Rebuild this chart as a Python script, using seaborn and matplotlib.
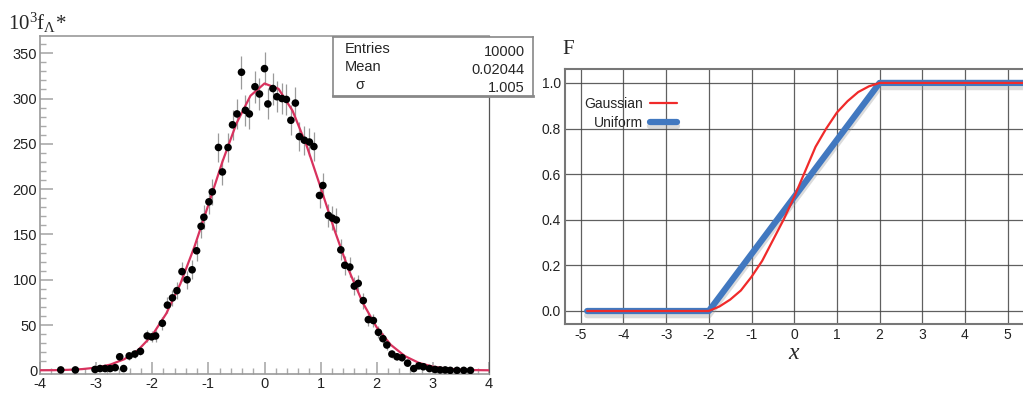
import numpy as np
import pandas as pd
import matplotlib
matplotlib.use("Agg")
import matplotlib.pyplot as plt
import matplotlib.patheffects as pe
from matplotlib.ticker import MultipleLocator
import seaborn as sns

# left panel: histogram points (bin centre, count) and fitted gaussian
pts_x = [-3.63, -3.37, -3.02, -2.93, -2.84, -2.75, -2.66, -2.58, -2.51, -2.41,
         -2.31, -2.21, -2.09, -2.01, -1.94, -1.82, -1.73, -1.64, -1.56, -1.47,
         -1.38, -1.29, -1.21, -1.13, -1.08, -0.99, -0.93, -0.82, -0.75, -0.65,
         -0.57, -0.49, -0.41, -0.34, -0.27, -0.17, -0.09, 0.0, 0.06, 0.15,
         0.22, 0.31, 0.39, 0.47, 0.55, 0.62, 0.71, 0.80, 0.88, 0.98,
         1.04, 1.14, 1.21, 1.28, 1.36, 1.43, 1.52, 1.60, 1.67, 1.76,
         1.85, 1.94, 2.03, 2.11, 2.18, 2.27, 2.36, 2.45, 2.55, 2.66,
         2.75, 2.83, 2.94, 3.04, 3.13, 3.22, 3.31, 3.43, 3.55, 3.67]
pts_y = [0.5, 0.5, 1, 2, 2, 2, 3, 15, 2, 16,
         18, 21, 38, 37, 38, 52, 72, 80, 88, 109,
         100, 111, 132, 159, 169, 186, 197, 246, 219, 246,
         271, 283, 329, 287, 283, 313, 305, 333, 294, 311,
         302, 300, 299, 276, 295, 258, 254, 252, 247, 193,
         204, 171, 168, 166, 133, 116, 114, 93, 96, 77,
         56, 55, 42, 35, 28, 18, 15, 14, 8, 2,
         5, 4, 2, 1, 0.5, 0.5, 0, 0, 0, 0]

fit_x = [-4.0, -3.75, -3.5, -3.25, -3.0, -2.75, -2.5, -2.25, -2.0, -1.75,
         -1.5, -1.25, -1.0, -0.75, -0.5, -0.25, 0.0, 0.25, 0.5, 0.75,
         1.0, 1.25, 1.5, 1.75, 2.0, 2.25, 2.5, 2.75, 3.0, 3.25,
         3.5, 3.75, 4.0]
fit_y = [0.1, 0.2, 0.6, 1.4, 3.0, 6.3, 12.3, 22.5, 38.8, 62.7,
         95.4, 136.2, 182.7, 230.2, 272.5, 303.1, 316.6, 310.7, 286.5, 248.1,
         201.9, 154.3, 110.8, 74.7, 47.4, 28.2, 15.8, 8.3, 4.1, 1.9,
         0.8, 0.3, 0.1]

stats_names = ["Entries", "Mean", "σ"]
stats_values = ["10000", "0.02044", "1.005"]

# right panel: cumulative distributions
gauss_x = [-4.85, -2.0, -1.75, -1.5, -1.25, -1.0, -0.75, -0.5, -0.25, 0.0,
           0.25, 0.5, 0.75, 1.0, 1.25, 1.5, 1.75, 2.0, 5.4]
gauss_F = [0.0, 0.0, 0.02, 0.05, 0.09, 0.15, 0.22, 0.31, 0.40, 0.50,
           0.61, 0.72, 0.80, 0.87, 0.92, 0.96, 0.985, 1.0, 1.0]
unif_x = [-4.85, -2.0, 2.0, 5.4]
unif_F = [0.0, 0.0, 1.0, 1.0]

sns.set_theme(style="white")
plt.rcParams['font.family'] = ['Liberation Sans', 'DejaVu Sans']
plt.rcParams['axes.unicode_minus'] = False
plt.rcParams['mathtext.fontset'] = 'custom'
plt.rcParams['mathtext.rm'] = 'Liberation Serif'
plt.rcParams['mathtext.it'] = 'Liberation Serif:italic'

fig = plt.figure(figsize=(10.23, 3.97), dpi=100)
W, H = 1023, 397

# ---------- left panel ----------
ax1 = fig.add_axes([40 / W, 1 - 374 / H, 449 / W, 338 / H])
err = np.sqrt(np.array(pts_y))
err[np.array(pts_y) < 1] = 0
ax1.errorbar(pts_x, pts_y, yerr=err, fmt='none', ecolor='#9a9a9a', elinewidth=0.9, zorder=2)
sns.lineplot(x=fit_x, y=fit_y, ax=ax1, color='#d8325e', linewidth=1.6, zorder=3)
sns.scatterplot(x=pts_x, y=pts_y, ax=ax1, color='black', s=30, edgecolor='none', zorder=4)
ax1.set_xlim(-4, 4)
ax1.set_ylim(-4, 369)
ax1.xaxis.set_major_locator(MultipleLocator(1))
ax1.xaxis.set_minor_locator(MultipleLocator(0.2))
ax1.yaxis.set_major_locator(MultipleLocator(50))
ax1.yaxis.set_minor_locator(MultipleLocator(10))
ax1.tick_params(which='both', direction='in', color='#aaaaaa', labelsize=10.5,
                labelcolor='#222222', bottom=True, left=True)
ax1.tick_params(which='major', length=9, width=1.2)
ax1.tick_params(which='minor', length=4, width=1)
ax1.tick_params(axis='x', pad=2)
ax1.tick_params(axis='y', pad=2)
for s in ax1.spines.values():
    s.set_color('#999999')
    s.set_linewidth(1.2)
ax1.spines['right'].set_linewidth(0.9)
ax1.spines['right'].set_color('#555555')
fig.text(8 / W, 1 - 30 / H, r"$\mathrm{10^3f_{\Lambda}}$*", fontsize=15,
         family='Liberation Serif', ha='left', va='baseline')

# stats box
bx = fig.add_axes([333 / W, 1 - 96 / H, 200 / W, 59 / H])
bx.set_xticks([])
bx.set_yticks([])
bx.set_facecolor('white')
for s in bx.spines.values():
    s.set_color('#888888')
    s.set_linewidth(1.2)
bx.spines['bottom'].set_linewidth(2)
for i, (n, v) in enumerate(zip(stats_names, stats_values)):
    yy = 0.80 - i * 0.31
    xx = 0.06 if i < 2 else 0.11
    bx.text(xx, yy, n, ha='left', va='center', fontsize=10.5, transform=bx.transAxes)
    bx.text(0.96, yy - 0.05, v, ha='right', va='center', fontsize=10.5, transform=bx.transAxes)

# ---------- right panel ----------
ax2 = fig.add_axes([565 / W, 1 - 324 / H, 458 / W, 255 / H])
ax2.set_xlim(-5.37, 5.36)
ax2.set_ylim(-0.057, 1.061)
ax2.set_xticks(range(-5, 6))
ax2.set_yticks([0.0, 0.2, 0.4, 0.6, 0.8, 1.0])
ax2.set_yticklabels(["0.0", "0.2", "0.4", "0.6", "0.8", "1.0"])
ax2.grid(True, color='#444444', linewidth=0.9, alpha=0.85)
ax2.set_axisbelow(True)
sns.lineplot(x=unif_x, y=unif_F, ax=ax2, color='#4178c0', linewidth=4.5, label='Uniform',
             zorder=3, path_effects=[pe.SimpleLineShadow(offset=(0, -3), shadow_color='#999999', alpha=0.35),
                                     pe.Normal()])
sns.lineplot(x=gauss_x, y=gauss_F, ax=ax2, color='#f02a2a', linewidth=1.6, label='Gaussian', zorder=4)
h, l = ax2.get_legend_handles_labels()
ax2.legend([h[1], h[0]], [l[1], l[0]], loc='upper left', bbox_to_anchor=(0.02, 0.93),
           frameon=False, markerfirst=False, fontsize=10, handlelength=2.0,
           handletextpad=0.5, labelspacing=0.4, borderpad=0.2)
ax2.tick_params(length=0, labelsize=10, labelcolor='#222222', pad=3)
for s in ax2.spines.values():
    s.set_color('#777777')
    s.set_linewidth(1.5)
ax2.spines['right'].set_visible(False)
ax2.set_xlabel(r"$\mathit{x}$", fontsize=17, labelpad=0)
fig.text(562 / W, 1 - 54 / H, "F", fontsize=15, family='Liberation Serif', ha='left', va='baseline')

fig.savefig("out.png", dpi=100)
